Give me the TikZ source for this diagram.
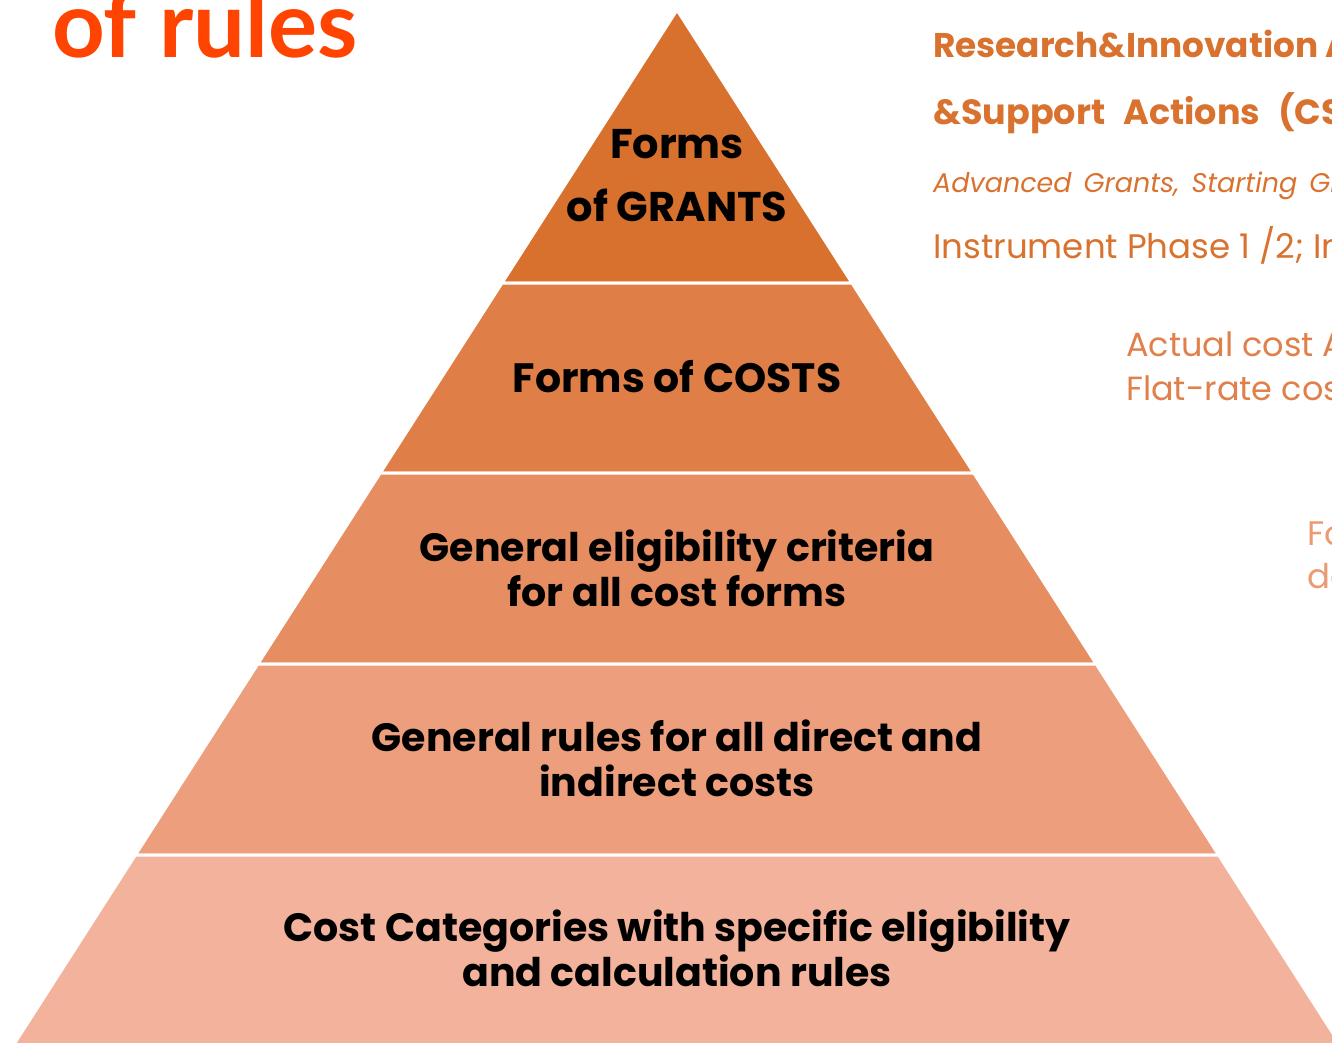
\documentclass[tikz,border=0pt]{standalone}
\usepackage{fontspec}
\setmainfont{Poppins}
\newfontfamily\titlefont{Lato}
\definecolor{tierA}{HTML}{D8712D}
\definecolor{tierB}{HTML}{DF7F47}
\definecolor{tierC}{HTML}{E68D62}
\definecolor{tierD}{HTML}{EC9E7D}
\definecolor{tierE}{HTML}{F2B29B}
\definecolor{headline}{HTML}{FF4300}
\definecolor{sideA}{HTML}{D9722E}
\definecolor{sideB}{HTML}{E0804A}
\definecolor{sideC}{HTML}{EC9A74}
\tikzset{
    tierband/.style={draw=white,line width=3pt},
    tierlabel/.style={font=\bfseries\fontsize{39.5}{45}\selectfont,align=center,text=black,inner sep=0pt},
    sidetext/.style={anchor=base west,inner sep=0pt,font=\fontsize{34}{40}\selectfont}
}
\begin{document}
\begin{tikzpicture}[x=1pt,y=-1pt]
\useasboundingbox (0,0) rectangle (1332,1043);
\clip (0,0) rectangle (1332,1043);
% pyramid tiers
\foreach \yt/\yb/\col in {10/283/tierA,283/473/tierB,473/664/tierC,664/855/tierD,855/1070/tierE}{
    \filldraw[fill=\col,tierband] ({677-(\yt-10)*0.641},\yt) -- ({677+(\yt-10)*0.641},\yt)
        -- ({677+(\yb-10)*0.641},\yb) -- ({677-(\yb-10)*0.641},\yb) -- cycle;
}
\node[tierlabel,font=\bfseries\fontsize{41.5}{63}\selectfont] (grants) at (677,176) {Forms\\of GRANTS};
\node[tierlabel,font=\bfseries\fontsize{41}{45}\selectfont] (costs) at (677,377) {Forms of COSTS};
\node[tierlabel] (criteria) at (677,568) {General eligibility criteria\\for all cost forms};
\node[tierlabel] (rules) at (677,758) {General rules for all direct and\\indirect costs};
\node[tierlabel] (categories) at (677,948) {Cost Categories with specific eligibility\\and calculation rules};
% title
\node[anchor=base west,inner sep=0pt,text=headline,font=\titlefont\bfseries\fontsize{92}{96}\selectfont] (title) at (52,58) {of rules};
% side notes
\node[sidetext,text=sideA,font=\bfseries\fontsize{34.3}{40}\selectfont] (ria) at (933,58) {Research\&Innovation Actions};
\node[sidetext,text=sideA,font=\bfseries\fontsize{35}{40}\selectfont] (csa) at (933,125) {\&Support\hspace{18pt}Actions\hspace{18pt}(CSA)};
\node[sidetext,text=sideA,font=\itshape\fontsize{27}{32}\selectfont] (erc) at (933,193) {Advanced\hspace{12pt}Grants,\hspace{12pt}Starting\hspace{12pt}Grants};
\node[sidetext,text=sideA] (sme) at (933,258) {Instrument Phase 1 /2; Innovation};
\node[sidetext,text=sideB,font=\fontsize{33.5}{40}\selectfont] (actual) at (1126,356) {Actual cost And};
\node[sidetext,text=sideB,font=\fontsize{33.5}{40}\selectfont] (flat) at (1126,400) {Flat-rate costs};
\node[sidetext,text=sideC,font=\fontsize{34}{40}\selectfont] (fo) at (1307,545) {For};
\node[sidetext,text=sideC,font=\fontsize{34}{40}\selectfont] (da) at (1307,588) {data};
\end{tikzpicture}
\end{document}
